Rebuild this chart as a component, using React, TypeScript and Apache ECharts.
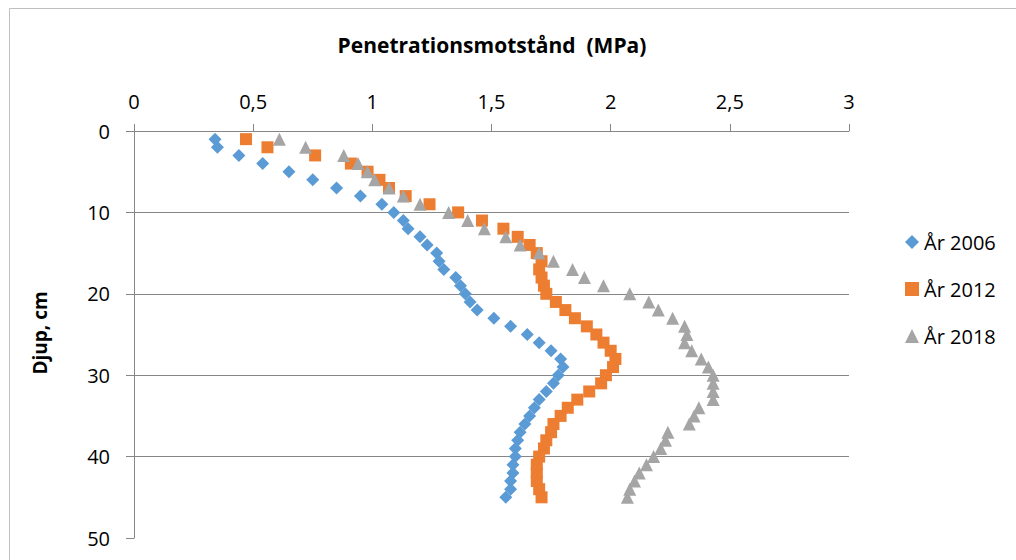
import React, { useEffect, useRef } from "react";
import * as echarts from "echarts";

const depths = [1,2,3,4,5,6,7,8,9,10,11,12,13,14,15,16,17,18,19,20,21,22,23,24,25,26,27,28,29,30,31,32,33,34,35,36,37,38,39,40,41,42,43,44,45];

const values2006 = [0.34,0.35,0.44,0.54,0.65,0.75,0.85,0.95,1.04,1.09,1.13,1.15,1.20,1.23,1.27,1.28,1.30,1.35,1.37,1.39,1.41,1.44,1.51,1.58,1.65,1.70,1.75,1.79,1.80,1.78,1.76,1.73,1.70,1.68,1.66,1.64,1.62,1.61,1.60,1.60,1.59,1.59,1.58,1.58,1.56];

const values2012 = [0.47,0.56,0.76,0.91,0.98,1.03,1.07,1.14,1.24,1.36,1.46,1.55,1.61,1.66,1.69,1.71,1.70,1.71,1.72,1.73,1.77,1.81,1.85,1.90,1.94,1.97,2.00,2.02,2.01,1.98,1.96,1.91,1.86,1.82,1.79,1.76,1.75,1.73,1.72,1.70,1.69,1.69,1.69,1.70,1.71];

const values2018 = [0.61,0.72,0.88,0.94,0.98,1.01,1.07,1.13,1.20,1.32,1.40,1.47,1.56,1.62,1.70,1.76,1.84,1.89,1.97,2.08,2.16,2.20,2.26,2.31,2.32,2.31,2.34,2.38,2.41,2.43,2.43,2.43,2.43,2.37,2.35,2.33,2.24,2.23,2.21,2.18,2.15,2.12,2.10,2.08,2.07];

const seriesNames = ["År 2006", "År 2012", "År 2018"];
const xTitle = "Penetrationsmotstånd  (MPa)";
const yTitle = "Djup, cm";

const FONT = "'Open Sans', sans-serif";

export default function App() {
  const ref = useRef<HTMLDivElement>(null);
  useEffect(() => {
    if (!ref.current) return;
    const chart = echarts.init(ref.current, undefined, { renderer: "svg" });
    const mk = (vals: number[]) => vals.map((v, i) => [v, depths[i]]);
    const axisColor = "#868686";
    chart.setOption({
      animation: false,
      backgroundColor: "#ffffff",
      textStyle: { fontFamily: FONT },
      grid: { left: 134, right: 167, top: 131, bottom: 22, containLabel: false },
      graphic: [
        {
          type: "rect",
          shape: { x: 9.5, y: 8.5, width: 1200, height: 800 },
          style: { fill: "none", stroke: "#BFBFBF", lineWidth: 1 },
          silent: true,
        },
        {
          type: "text",
          x: 492,
          y: 45,
          style: {
            text: xTitle,
            fontFamily: FONT,
            fontSize: 21,
            fontWeight: "bold",
            fill: "#000",
            align: "center",
            verticalAlign: "middle",
          },
        },
        {
          type: "text",
          x: 40,
          y: 333,
          rotation: Math.PI / 2,
          style: {
            text: yTitle,
            fontFamily: FONT,
            fontSize: 19,
            fontWeight: "bold",
            fill: "#000",
            align: "center",
            verticalAlign: "middle",
          },
        },
      ],
      legend: {
        orient: "vertical",
        left: 900,
        top: 227,
        itemWidth: 14,
        itemHeight: 14,
        itemGap: 27,
        textStyle: { fontFamily: FONT, fontSize: 20, color: "#000" },
        data: [
          { name: seriesNames[0], icon: "diamond" },
          { name: seriesNames[1], icon: "rect" },
          { name: seriesNames[2], icon: "triangle" },
        ],
      },
      xAxis: {
        type: "value",
        position: "top",
        min: 0,
        max: 3,
        interval: 0.5,
        axisLine: { show: true, lineStyle: { color: axisColor, width: 1 } },
        axisTick: { show: true, length: 7, lineStyle: { color: axisColor } },
        splitLine: { show: false },
        axisLabel: {
          margin: 20,
          fontSize: 20,
          fontFamily: FONT,
          color: "#000",
          formatter: (v: number) => String(v).replace(".", ","),
        },
      },
      yAxis: {
        type: "value",
        inverse: true,
        min: 0,
        max: 50,
        interval: 10,
        axisLine: { show: true, lineStyle: { color: axisColor, width: 1 } },
        axisTick: { show: true, length: 8, lineStyle: { color: axisColor } },
        splitLine: {
          show: true,
          lineStyle: {
            color: [axisColor, axisColor, axisColor, axisColor, axisColor, "rgba(0,0,0,0)"],
            width: 1,
          },
        },
        axisLabel: { margin: 24, fontSize: 20, fontFamily: FONT, color: "#000" },
      },
      series: [
        {
          name: seriesNames[0],
          type: "scatter",
          symbol: "diamond",
          symbolSize: 13,
          itemStyle: { color: "#5B9BD5", opacity: 1 },
          data: mk(values2006),
        },
        {
          name: seriesNames[1],
          type: "scatter",
          symbol: "rect",
          symbolSize: 12,
          itemStyle: { color: "#ED7D31", opacity: 1 },
          data: mk(values2012),
        },
        {
          name: seriesNames[2],
          type: "scatter",
          symbol: "triangle",
          symbolSize: 13,
          itemStyle: { color: "#A5A5A5", opacity: 1 },
          data: mk(values2018),
        },
      ],
    });
    return () => chart.dispose();
  }, []);
  return (
    <div
      ref={ref}
      style={{ position: "absolute", left: 0, top: 0, width: 1016, height: 560 }}
    />
  );
}
